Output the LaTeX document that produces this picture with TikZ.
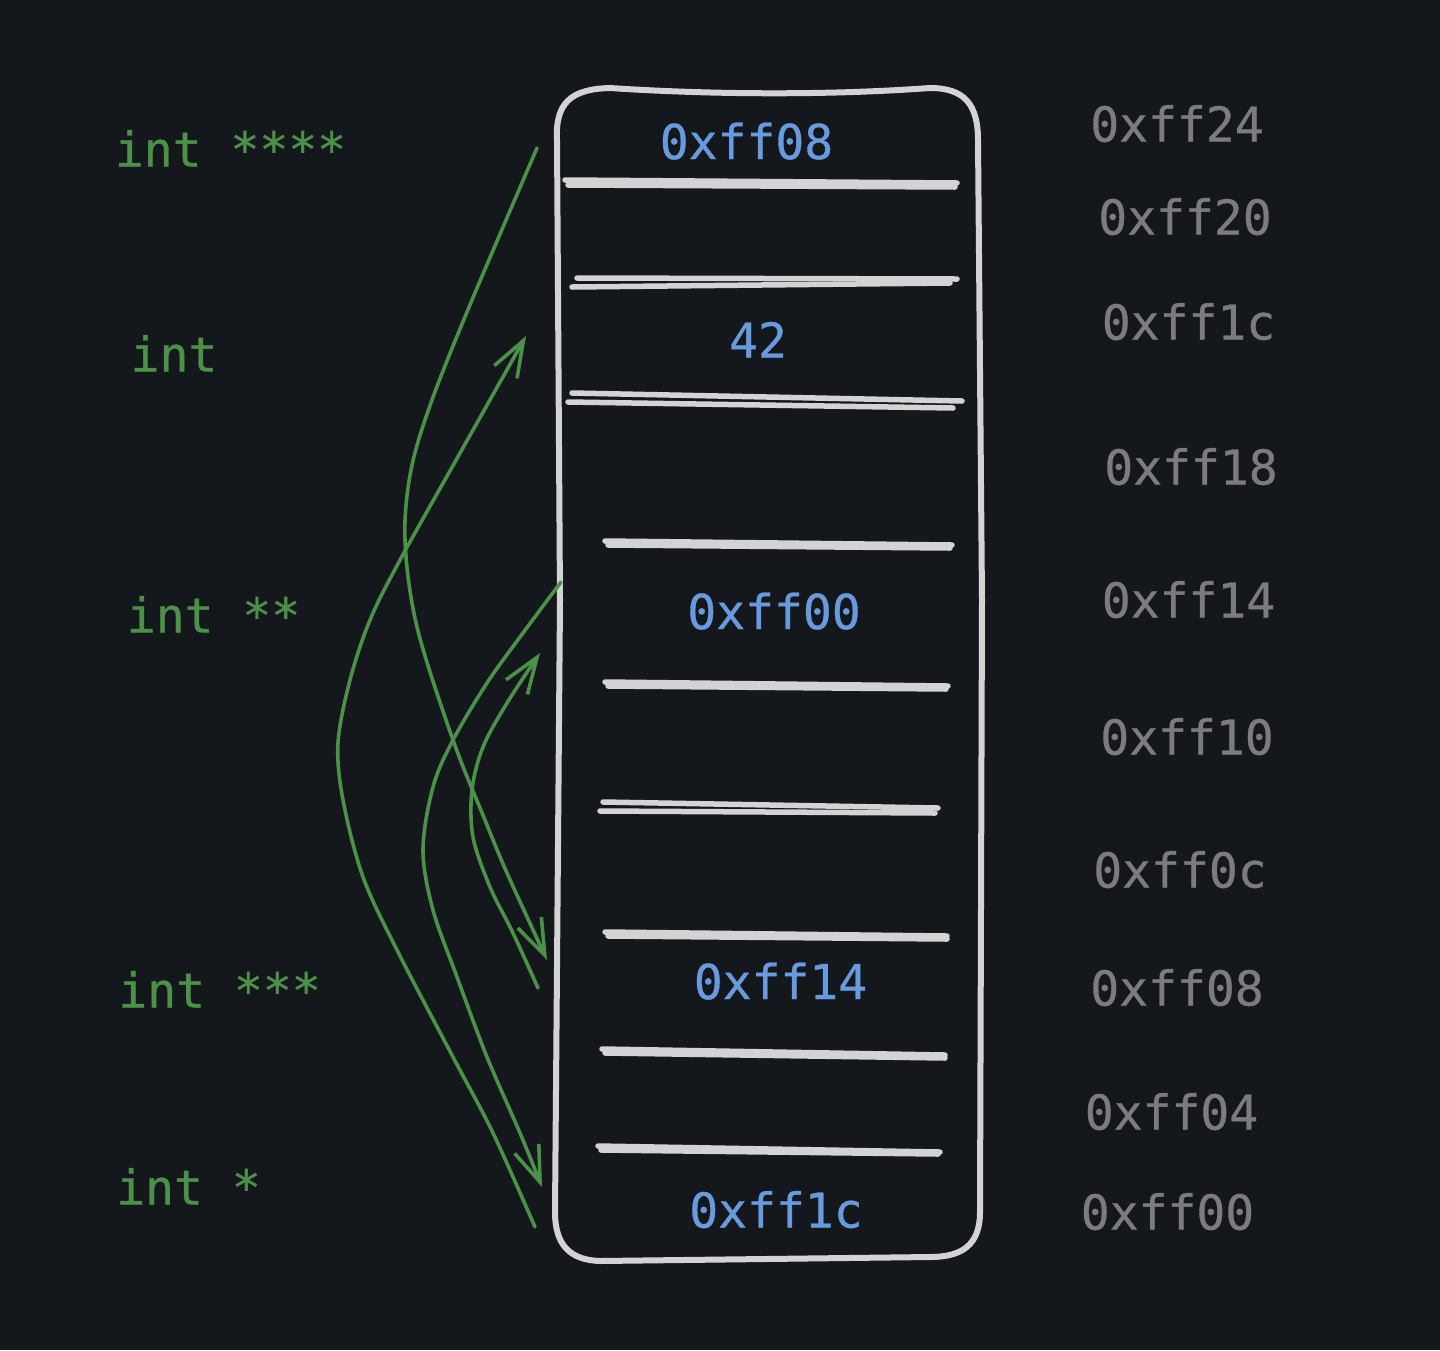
\documentclass[tikz,border=0pt]{standalone}
\usepackage{fontspec}
\newfontfamily\mono[FakeBold=0.7]{DejaVu Sans Mono}
\usetikzlibrary{arrows.meta}
\definecolor{bg}{HTML}{14171C}
\definecolor{grn}{HTML}{4B9148}
\definecolor{blu}{HTML}{689BDE}
\definecolor{gry}{HTML}{7C7C7C}
\definecolor{wht}{HTML}{D3D3D3}
\tikzset{
  txt/.style={font=\mono\fontsize{48}{48}\selectfont, inner sep=0pt, text height=35pt, text depth=0pt, anchor=center},
  typ/.style={txt, text=grn},
  val/.style={txt, text=blu},
  adr/.style={txt, text=gry},
  boxline/.style={draw=wht, line width=6pt, line join=round, line cap=round},
  slotline/.style={draw=wht, line width=5.5pt, line cap=round},
  ptr/.style={draw=grn, line width=3.6pt, line cap=round, line join=round,
    -{Straight Barb[length=36pt,width=26pt]}},
}
\begin{document}
\begin{tikzpicture}[x=1pt,y=-1pt]
\fill[bg] (0,0) rectangle (1440,1350);
\useasboundingbox (0,0) rectangle (1440,1350);

% memory box
\draw[boxline] (557,140) .. controls (555,102) and (572,89) .. (610,88)
  .. controls (700,94) and (820,96) .. (930,88)
  .. controls (965,88) and (978,105) .. (978,140)
  -- (982,600) -- (980,1212)
  .. controls (980,1245) and (962,1257) .. (930,1257)
  -- (600,1261)
  .. controls (570,1260) and (555,1245) .. (555,1212)
  -- (560,600) -- cycle;

% slot separators
\draw[slotline] (565,180) -- (957,183);  \draw[slotline] (568,185) -- (955,187);
\draw[slotline] (577,278) -- (957,279);  \draw[slotline] (572,287) -- (950,283);
\draw[slotline] (572,393) -- (962,401);  \draw[slotline] (568,402) -- (953,408);
\draw[slotline] (605,541) -- (952,545);  \draw[slotline] (608,545) -- (950,548);
\draw[slotline] (605,682) -- (948,686);  \draw[slotline] (608,686) -- (946,689);
\draw[slotline] (603,802) -- (938,808);  \draw[slotline] (600,811) -- (935,813);
\draw[slotline] (605,932) -- (947,936);  \draw[slotline] (608,936) -- (947,939);
\draw[slotline] (602,1049) -- (945,1055);\draw[slotline] (605,1053) -- (945,1058);
\draw[slotline] (598,1146) -- (940,1152);\draw[slotline] (601,1150) -- (938,1154);

% values in the box
\node[val] (v1) at (746.5,141.5) {0xff08};
\node[val] (v2) at (758,340) {42};
\node[val] (v3) at (774,611.5) {0xff00};
\node[val] (v4) at (780.5,981.5) {0xff14};
\node[val] (v5) at (776,1210) {0xff1c};

% types
\node[typ] (t4) at (230.5,149) {int ****};
\node[typ] (t0) at (174,354) {int};
\node[typ] (t2) at (213.5,615) {int **};
\node[typ] (t3) at (219.5,990) {int ***};
\node[typ] (t1) at (188.5,1187) {int *};

% addresses
\node[adr] (r24) at (1177,124) {0xff24};
\node[adr] (r20) at (1185,217) {0xff20};
\node[adr] (r1c) at (1188.5,322) {0xff1c};
\node[adr] (r18) at (1191,467) {0xff18};
\node[adr] (r14) at (1188.5,600) {0xff14};
\node[adr] (r10) at (1187,737) {0xff10};
\node[adr] (r0c) at (1180,870) {0xff0c};
\node[adr] (r08) at (1177,988) {0xff08};
\node[adr] (r04) at (1171.5,1112) {0xff04};
\node[adr] (r00) at (1167.5,1212) {0xff00};

% pointer arrows
\coordinate (a0) at (537,148);  \coordinate (a1) at (547,960);
\coordinate (b0) at (561,582);  \coordinate (b1) at (542,1187);
\coordinate (c0) at (535,1227); \coordinate (c1) at (526,336);
\coordinate (d0) at (538,988);  \coordinate (d1) at (540,653);

\draw[ptr] plot[smooth, tension=0.55] coordinates {(a0) (472,300) (432,400) (411,470) (405,540) (417,627) (453,740) (485,820) (507,873) (a1)};
\draw[ptr] plot[smooth, tension=0.55] coordinates {(b0) (520,637) (487,683) (453,740) (433,787) (423,850) (433,910) (457,977) (487,1057) (520,1133) (b1)};
\draw[ptr] plot[smooth, tension=0.55] coordinates {(c0) (493,1133) (453,1057) (397,950) (363,877) (343,800) (338,743) (350,680) (370,620) (400,560) (455,462) (c1)};
\draw[ptr] plot[smooth, tension=0.55] coordinates {(d0) (513,933) (490,887) (473,837) (472,790) (483,747) (507,703) (d1)};
\end{tikzpicture}
\end{document}
